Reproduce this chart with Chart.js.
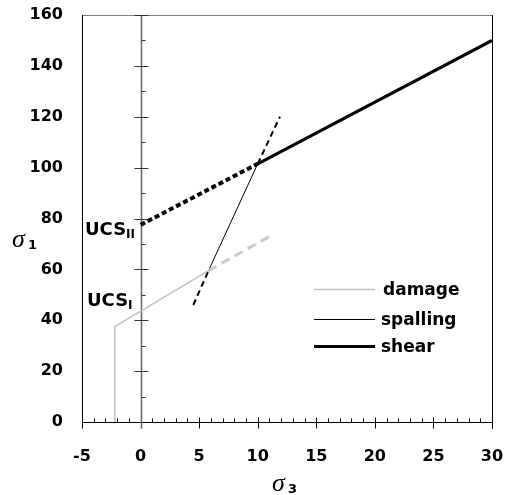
<!DOCTYPE html>
<html>
<head>
<meta charset="utf-8">
<script src="https://cdn.jsdelivr.net/npm/chart.js@4/dist/chart.umd.min.js"></script>
<style>
  body { margin: 0; background: #fff; }
  #wrap { width: 505px; height: 495px; }
</style>
</head>
<body>
<div id="wrap"><canvas id="myChart" width="505" height="495"></canvas></div>
<script>
'use strict';

// sigma3 / sigma1 values
var damageX = [-2.2, -2.2, 5.8];
var damageY = [0, 37.5, 59.5];
var damageExtX = [5.8, 11.1];
var damageExtY = [59.5, 73.2];

var spallLowX = [4.5, 5.8];
var spallLowY = [46, 59.5];
var spallingX = [5.8, 10];
var spallingY = [59.5, 101.5];
var spallHighX = [10, 11.9];
var spallHighY = [101.5, 120];

var shearExtX = [0, 10];
var shearExtY = [77.5, 101.5];
var shearX = [10, 30];
var shearY = [101.5, 150];

var xTicks = [-5, 0, 5, 10, 15, 20, 25, 30];
var yTicks = [0, 20, 40, 60, 80, 100, 120, 140, 160];
var legendLabels = ['damage', 'spalling', 'shear'];

var sans = '"DejaVu Sans", Verdana, sans-serif';

function pts(xs, ys) {
    var out = [];
    for (var i = 0; i < xs.length; i++) {
        out.push({x: xs[i], y: ys[i]});
    }
    return out;
}

function lineSet(xs, ys, color, width, dash) {
    return {
        data: pts(xs, ys),
        showLine: true,
        borderColor: color,
        borderWidth: width,
        borderDash: dash || [],
        pointRadius: 0,
        fill: false,
        tension: 0
    };
}

function noPad(s) {
    s.paddingLeft = s.paddingRight = s.paddingTop = s.paddingBottom = 0;
}

var decor = {
    id: 'decor',
    beforeDatasetsDraw: function (chart) {
        var ctx = chart.ctx, a = chart.chartArea;
        var sx = chart.scales.x, sy = chart.scales.y;
        var x0 = Math.round(sx.getPixelForValue(0)) + 0.5;
        var yb = Math.round(sy.getPixelForValue(0)) + 0.5;
        ctx.save();
        // frame
        ctx.lineWidth = 1;
        ctx.strokeStyle = '#808080';
        ctx.beginPath();
        ctx.moveTo(Math.round(a.left) + 0.5, Math.round(a.top) + 0.5);
        ctx.lineTo(Math.round(a.right) + 0.5, Math.round(a.top) + 0.5);
        ctx.stroke();
        ctx.strokeStyle = '#000';
        ctx.beginPath();
        ctx.moveTo(Math.round(a.left) + 0.5, Math.round(a.top));
        ctx.lineTo(Math.round(a.left) + 0.5, yb + 6);
        ctx.moveTo(Math.round(a.right) + 0.5, Math.round(a.top));
        ctx.lineTo(Math.round(a.right) + 0.5, yb + 6);
        ctx.stroke();
        // x axis line with ticks
        ctx.beginPath();
        ctx.moveTo(a.left, yb);
        ctx.lineTo(a.right, yb);
        for (var v = -5; v <= 30; v++) {
            var px = Math.round(sx.getPixelForValue(v)) + 0.5;
            if (v % 5 === 0) {
                ctx.moveTo(px, yb - 5);
                ctx.lineTo(px, yb + 6);
            } else {
                ctx.moveTo(px, yb - 4);
                ctx.lineTo(px, yb);
            }
        }
        ctx.stroke();
        // y axis at sigma3 = 0
        ctx.strokeStyle = '#666';
        ctx.lineWidth = 1.5;
        ctx.beginPath();
        ctx.moveTo(x0, a.top);
        ctx.lineTo(x0, yb + 6);
        ctx.stroke();
        ctx.lineWidth = 1;
        ctx.strokeStyle = '#333';
        ctx.beginPath();
        for (var w = 10; w <= 160; w += 10) {
            var py = Math.round(sy.getPixelForValue(w)) + 0.5;
            if (w % 20 === 0) {
                ctx.moveTo(x0 - 7, py);
                ctx.lineTo(x0 + 7, py);
            } else {
                ctx.moveTo(x0, py);
                ctx.lineTo(x0 + 4, py);
            }
        }
        ctx.stroke();
        ctx.restore();
    },
    afterDraw: function (chart) {
        var ctx = chart.ctx;
        ctx.save();
        ctx.fillStyle = '#000';
        ctx.textBaseline = 'alphabetic';
        ctx.textAlign = 'left';

        // UCS labels
        ctx.font = 'bold 18px ' + sans;
        ctx.fillText('UCS', 85, 235);
        var w1 = ctx.measureText('UCS').width;
        ctx.fillText('UCS', 87, 306);
        var w2 = ctx.measureText('UCS').width;
        ctx.font = 'bold 12px ' + sans;
        ctx.fillText('II', 85 + w1, 238);
        ctx.fillText('I', 87 + w2, 309);

        // axis titles
        ctx.font = 'italic 26px "Liberation Serif", "Times New Roman", serif';
        ctx.fillText('\u03c3', 12, 247);
        ctx.fillText('\u03c3', 272, 491);
        ctx.font = 'bold 13px ' + sans;
        ctx.fillText('1', 28, 249);
        ctx.fillText('3', 288, 493);

        // legend
        var rows = [
            {y: 289, base: 295, color: '#c0c0c0', width: 1.5, tx: 383},
            {y: 319, base: 325, color: '#000', width: 1, tx: 381},
            {y: 346, base: 352, color: '#000', width: 3, tx: 381}
        ];
        ctx.font = 'bold 17px ' + sans;
        for (var i = 0; i < rows.length; i++) {
            var r = rows[i];
            ctx.strokeStyle = r.color;
            ctx.lineWidth = r.width;
            ctx.beginPath();
            ctx.moveTo(314, r.y + 0.5);
            ctx.lineTo(375, r.y + 0.5);
            ctx.stroke();
            ctx.fillText(legendLabels[i], r.tx, r.base);
        }
        ctx.restore();
    }
};

var tickFont = { family: sans, size: 16, weight: 'bold' };

var config = {
    type: 'scatter',
    data: {
        datasets: [
            lineSet(damageX, damageY, '#c0c0c0', 1.5),
            lineSet(damageExtX, damageExtY, '#c8c8c8', 3, [9, 6]),
            lineSet(spallLowX, spallLowY, '#000', 2, [6, 4]),
            lineSet(spallingX, spallingY, '#000', 1),
            lineSet(spallHighX, spallHighY, '#000', 2, [6, 4]),
            lineSet(shearExtX, shearExtY, '#000', 4, [5, 3]),
            lineSet(shearX, shearY, '#000', 3)
        ]
    },
    options: {
        responsive: false,
        animation: false,
        layout: { padding: { top: 15, right: 13, left: 0, bottom: 0 } },
        plugins: { legend: { display: false }, tooltip: { enabled: false } },
        scales: {
            x: {
                type: 'linear',
                min: -5,
                max: 30,
                afterBuildTicks: function (s) { s.ticks = xTicks.map(function (v) { return {value: v}; }); },
                afterFit: function (s) { s.height = 73; noPad(s); },
                grid: { display: false, drawTicks: false },
                border: { display: false },
                ticks: { font: tickFont, color: '#000', padding: 25, maxRotation: 0 }
            },
            y: {
                type: 'linear',
                min: 0,
                max: 160,
                afterBuildTicks: function (s) { s.ticks = yTicks.map(function (v) { return {value: v}; }); },
                afterFit: function (s) { s.width = 82; noPad(s); },
                grid: { display: false, drawTicks: false },
                border: { display: false },
                ticks: { font: tickFont, color: '#000', padding: 19 }
            }
        }
    },
    plugins: [decor]
};

var ctx = document.getElementById('myChart').getContext('2d');
window.myChart = new Chart(ctx, config);
</script>
</body>
</html>
